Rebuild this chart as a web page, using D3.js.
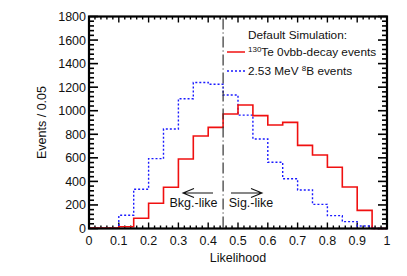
<!DOCTYPE html>
<html>
<head>
<meta charset="utf-8">
<script src="https://cdn.jsdelivr.net/npm/d3@7"></script>
<style>
  body { margin: 0; background: #fff; }
  text { font-family: "Liberation Sans", Arial, sans-serif; fill: #111; }
</style>
</head>
<body>
<svg id="chart" width="407" height="276"></svg>
<script>
// bin lower edges, width 0.05
var binEdges = d3.range(0, 1, 0.05).map(function(d){ return +d.toFixed(2); });
var teEvents = [3, 3, 15, 87, 214, 350, 590, 785, 859, 972, 1048, 958, 879, 901, 706, 624, 520, 352, 154, 0];
var bEvents  = [3, 3, 112, 333, 593, 845, 1102, 1240, 1225, 1133, 963, 760, 562, 423, 327, 205, 109, 58, 21, 0];
var xTicks = [0, 0.1, 0.2, 0.3, 0.4, 0.5, 0.6, 0.7, 0.8, 0.9, 1];
var yTicks = [0, 200, 400, 600, 800, 1000, 1200, 1400, 1600, 1800];
var cutValue = 0.45;

var svg = d3.select("#chart");
var plotL = 89, plotR = 387, plotT = 16.5, plotB = 228.5;

var x = d3.scaleLinear().domain([0, 1]).range([plotL, plotR]);
var y = d3.scaleLinear().domain([0, 1800]).range([plotB, plotT]);

// step path for a histogram
function stepLine(vals){
  var pts = [];
  vals.forEach(function(v, i){
    pts.push([x(binEdges[i]), y(v)]);
    pts.push([x(binEdges[i] + 0.05), y(v)]);
  });
  return d3.line()(pts);
}

// ticks (inward) on all four sides
var ticks = svg.append("g").attr("stroke", "#000");
d3.range(0, 1.0001, 0.02).forEach(function(t){
  var major = Math.abs(t*10 - Math.round(t*10)) < 1e-6;
  var len = major ? 6 : 3;
  ticks.append("line").attr("x1", x(t)).attr("x2", x(t)).attr("y1", plotB).attr("y2", plotB - len).attr("stroke-width", 1.4);
  ticks.append("line").attr("x1", x(t)).attr("x2", x(t)).attr("y1", plotT).attr("y2", plotT + len).attr("stroke-width", 1.4);
});
d3.range(0, 1801, 40).forEach(function(t){
  var major = t % 200 === 0;
  var len = major ? 9 : 5;
  ticks.append("line").attr("y1", y(t)).attr("y2", y(t)).attr("x1", plotL).attr("x2", plotL + len).attr("stroke-width", 1.6);
  ticks.append("line").attr("y1", y(t)).attr("y2", y(t)).attr("x1", plotR).attr("x2", plotR - len).attr("stroke-width", 1.6);
});

// histograms
svg.append("path").attr("d", stepLine(bEvents))
  .attr("fill", "none").attr("stroke", "#1a1aff").attr("stroke-width", 1.4)
  .attr("stroke-dasharray", "2,2");
svg.append("path").attr("d", stepLine(teEvents))
  .attr("fill", "none").attr("stroke", "#f01010").attr("stroke-width", 1.6);

// cut line
svg.append("line")
  .attr("x1", x(cutValue)).attr("x2", x(cutValue))
  .attr("y1", plotT + 2).attr("y2", plotB)
  .attr("stroke", "#333").attr("stroke-width", 1.2)
  .attr("stroke-dasharray", "11,3,1,3");

// frame
svg.append("rect")
  .attr("x", plotL).attr("y", plotT)
  .attr("width", plotR - plotL).attr("height", plotB - plotT)
  .attr("fill", "none").attr("stroke", "#000").attr("stroke-width", 2.2);

// tick labels
svg.append("g").selectAll("text").data(xTicks).enter().append("text")
  .attr("x", function(d){ return x(d); })
  .attr("y", plotB + 16)
  .attr("text-anchor", "middle")
  .attr("font-size", 12.5)
  .text(function(d){ return d; });
svg.append("g").selectAll("text").data(yTicks).enter().append("text")
  .attr("x", plotL - 3)
  .attr("y", function(d){ return y(d); })
  .attr("dy", "0.36em")
  .attr("text-anchor", "end")
  .attr("font-size", 12.5)
  .text(function(d){ return d; });

// axis titles
svg.append("text").attr("x", 238).attr("y", 262)
  .attr("text-anchor", "middle").attr("font-size", 12.5).text("Likelihood");
svg.append("text")
  .attr("transform", "translate(46," + ((plotT + plotB)/2) + ") rotate(-90)")
  .attr("text-anchor", "middle").attr("font-size", 12.5).text("Events / 0.05");

// legend
var lg = svg.append("g").attr("font-size", 11.8);
lg.append("text").attr("x", 248).attr("y", 39).text("Default Simulation:");
lg.append("line").attr("x1", 227).attr("x2", 245).attr("y1", 52).attr("y2", 52)
  .attr("stroke", "#f01010").attr("stroke-width", 1.5);
var t1 = lg.append("text").attr("x", 248).attr("y", 56);
t1.append("tspan").attr("font-size", 8).attr("dy", -4).text("130");
t1.append("tspan").attr("dy", 4).text("Te 0vbb-decay events");
lg.append("line").attr("x1", 227).attr("x2", 245).attr("y1", 71).attr("y2", 71)
  .attr("stroke", "#1a1aff").attr("stroke-width", 1.4).attr("stroke-dasharray", "2,2");
var t2 = lg.append("text").attr("x", 248).attr("y", 75);
t2.append("tspan").text("2.53 MeV ");
t2.append("tspan").attr("font-size", 8).attr("dy", -4).text("8");
t2.append("tspan").attr("dy", 4).text("B events");

// region arrows
function arrow(x1, x2, yy){
  var dir = x2 > x1 ? 1 : -1;
  svg.append("path")
    .attr("d", "M" + x1 + "," + yy + "L" + x2 + "," + yy +
      "M" + (x2 - dir*11) + "," + (yy - 4.5) + "L" + x2 + "," + yy + "L" + (x2 - dir*11) + "," + (yy + 4.5))
    .attr("fill", "none").attr("stroke", "#111").attr("stroke-width", 1.1);
}
arrow(213, 183, 193);
arrow(231, 262, 193);
svg.append("text").attr("x", 193.5).attr("y", 207).attr("text-anchor", "middle")
  .attr("font-size", 12.5).text("Bkg.-like");
svg.append("text").attr("x", 251).attr("y", 207).attr("text-anchor", "middle")
  .attr("font-size", 12.5).text("Sig.-like");
</script>
</body>
</html>
